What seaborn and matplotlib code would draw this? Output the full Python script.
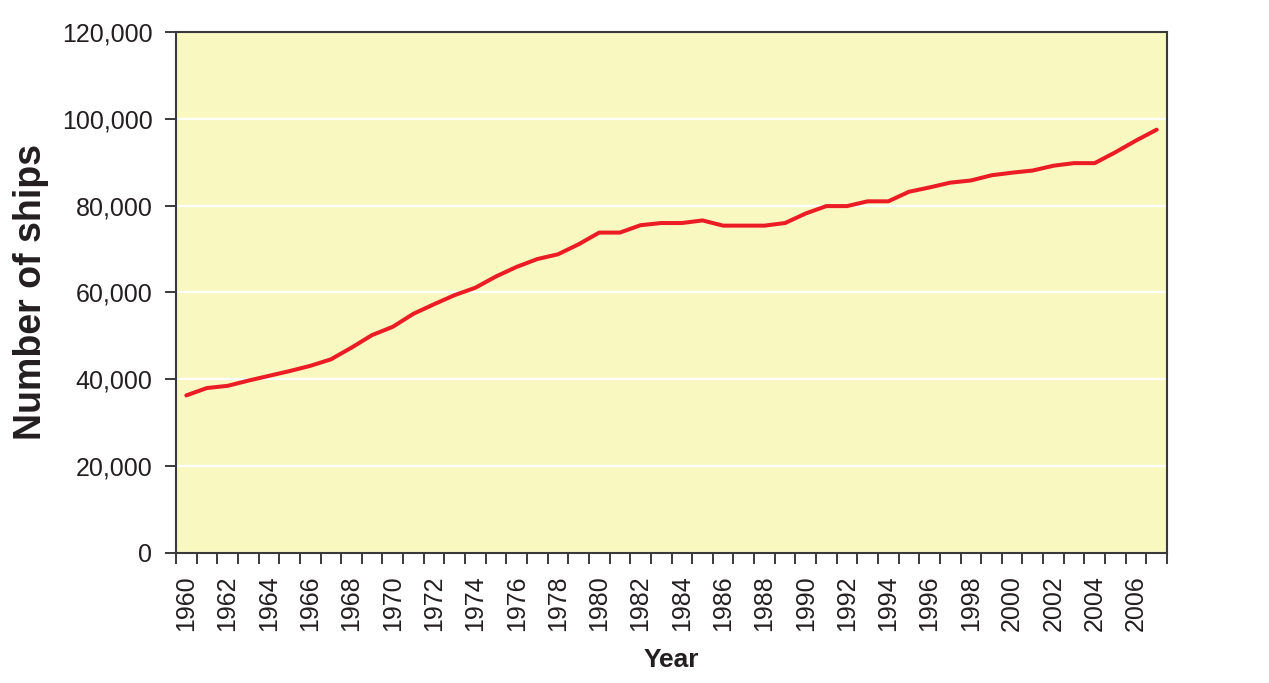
import numpy as np
import matplotlib
matplotlib.use("Agg")
import matplotlib.pyplot as plt
from matplotlib.ticker import FixedLocator, FuncFormatter
import seaborn as sns


# Data
years = list(range(1960, 2008))
ships = [
    36300, 38000, 38500, 39700, 40800, 41900, 43100, 44600, 47300, 50200,
    52100, 55100, 57300, 59400, 61100, 63700, 65900, 67700, 68800, 71100,
    73800, 73800, 75500, 76000, 76000, 76600, 75400, 75400, 75400, 76000,
    78200, 79900, 79900, 81000, 81000, 83200, 84200, 85300, 85800, 87000,
    87600, 88100, 89200, 89800, 89800, 92300, 95000, 97500,
]
label_years = list(range(1960, 2007, 2))
y_ticks = [0, 20000, 40000, 60000, 80000, 100000, 120000]



# Style
sns.set_style("white")
plt.rcParams["font.family"] = ["Liberation Sans", "DejaVu Sans"]

edge = "#3a3a3a"
text_col = "#231f20"



# Figure
fig = plt.figure(figsize=(12.69, 6.83), dpi=100)
ax = fig.add_axes([176 / 1269, 130 / 683, 991 / 1269, 521 / 683])
ax.set_facecolor("#f9f8c1")

sns.lineplot(x=years, y=ships, ax=ax, color="#ec1c24", linewidth=2.9)



# Axes limits and grid
ax.set_xlim(years[0] - 0.5, years[-1] + 0.5)
ax.set_ylim(y_ticks[0], y_ticks[-1])
ax.set_yticks(y_ticks)
ax.yaxis.set_major_formatter(FuncFormatter(lambda v, p: f"{v:,.0f}"))
ax.yaxis.grid(True, color="white", linewidth=1.6)
ax.set_axisbelow(True)

# Ticks at band edges, labels at band centres
ax.xaxis.set_major_locator(FixedLocator([y - 0.5 for y in years] + [years[-1] + 0.5]))
ax.xaxis.set_major_formatter(FuncFormatter(lambda v, p: ""))
ax.xaxis.set_minor_locator(FixedLocator(label_years))
ax.xaxis.set_minor_formatter(FuncFormatter(lambda v, p: f"{int(round(v))}"))

ax.tick_params(axis="x", which="major", direction="out", length=8, width=1.4,
               color=edge, bottom=True)
ax.tick_params(axis="x", which="minor", length=0, pad=16, labelsize=18,
               labelcolor=text_col, labelrotation=90, bottom=True)
ax.tick_params(axis="y", which="major", direction="out", length=8, width=1.4,
               color=edge, pad=9, labelsize=18, labelcolor=text_col, left=True)

for s in ax.spines.values():
    s.set_visible(True)
    s.set_color(edge)
    s.set_linewidth(1.5)



# Labels
ax.set_xlabel("Year", fontsize=19, fontweight="bold", color=text_col)
ax.xaxis.set_label_coords(0.5, -0.182)
ax.set_ylabel("Number of ships", fontsize=27, fontweight="bold", color=text_col)
ax.yaxis.set_label_coords(-0.128, 0.5)

fig.savefig("out.png", dpi=100)
